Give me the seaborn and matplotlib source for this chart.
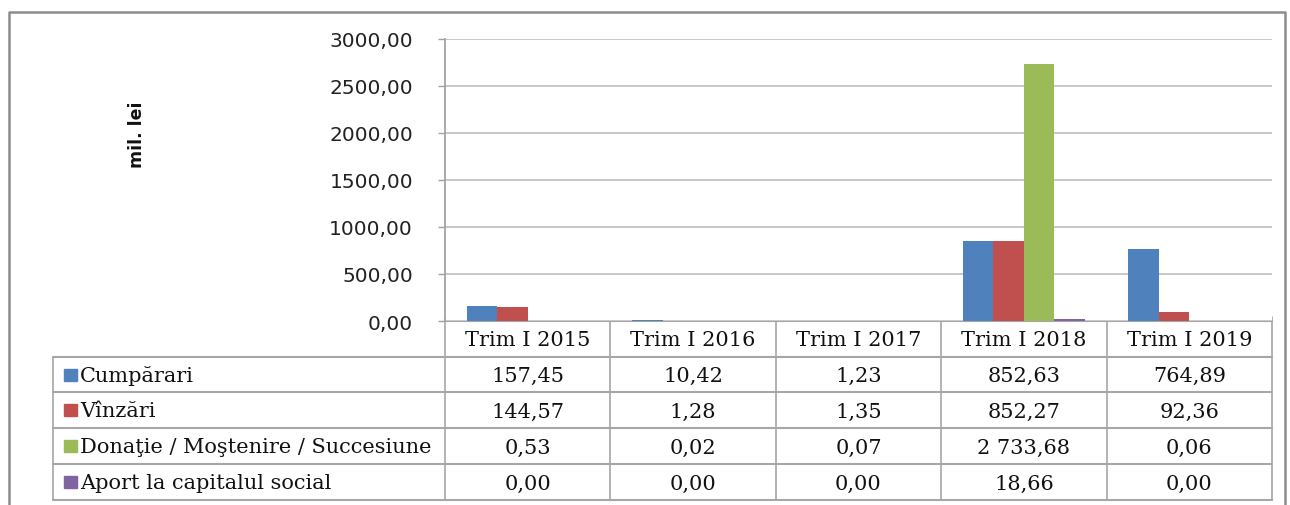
import numpy as np
import pandas as pd
import matplotlib
matplotlib.use("Agg")
import matplotlib.pyplot as plt
import seaborn as sns

# Date (mil. lei)
categorii = ["Trim I 2015", "Trim I 2016", "Trim I 2017", "Trim I 2018", "Trim I 2019"]
serii = ["Cumpărari", "Vînzări", "Donaţie / Moştenire / Succesiune", "Aport la capitalul social"]
cumparari = [157.45, 10.42, 1.23, 852.63, 764.89]
vinzari = [144.57, 1.28, 1.35, 852.27, 92.36]
donatie = [0.53, 0.02, 0.07, 2733.68, 0.06]
aport = [0.00, 0.00, 0.00, 18.66, 0.00]
culori = ["#4F81BD", "#C0504D", "#9BBB59", "#8064A2"]
y_ticks = [0, 500, 1000, 1500, 2000, 2500, 3000]

valori = [cumparari, vinzari, donatie, aport]
df = pd.DataFrame({
    "categorie": categorii * len(serii),
    "serie": [s for s in serii for _ in categorii],
    "valoare": [v for lst in valori for v in lst],
})


def fmt(v):
    # valori tabel: "2 733,68"
    return f"{v:,.2f}".replace(",", " ").replace(".", ",")


sns.set_theme(style="white")
plt.rcParams["font.family"] = ["DejaVu Sans"]

W, H = 1290, 506
fig = plt.figure(figsize=(W / 100, H / 100), dpi=100)

# zona graficului (pixeli)
L, R, T, B = 445, 1272, 40, 322
ax = fig.add_axes([L / W, 1 - B / H, (R - L) / W, (B - T) / H])

sns.barplot(data=df, x="categorie", y="valoare", hue="serie", hue_order=serii,
            order=categorii, palette=culori, width=0.74, legend=False,
            saturation=1, ax=ax, errorbar=None, linewidth=0)

ax.set_xlim(-0.5, len(categorii) - 0.5)
ax.set_ylim(0, 3000)
ax.set_yticks(y_ticks)
ax.set_yticklabels([f"{v:.2f}".replace(".", ",") for v in y_ticks],
                   fontsize=14.5, color="#222222")
ax.set_xticks([])
ax.set_xlabel("")
ax.set_ylabel("")
ax.yaxis.grid(True, color="#BFBFBF", linewidth=1.2)
ax.set_axisbelow(True)
for s in ["top", "right", "bottom"]:
    ax.spines[s].set_visible(False)
ax.spines["left"].set_color("#A0A0A0")
ax.tick_params(axis="y", which="major", left=True, length=5, width=1,
               color="#A0A0A0", pad=18)

# strat pentru tabel, in coordonate pixel
tab = fig.add_axes([0, 0, 1, 1], zorder=-1)
tab.set_xlim(0, W)
tab.set_ylim(H, 0)
tab.axis("off")

# chenar exterior
tab.plot([9, 9, 1285, 1285], [H + 5, 13, 13, H + 5], color="#8C8C8C", lw=1.8)

fig.text(137 / W, 1 - 135 / H, "mil. lei", rotation=90, ha="center", va="center",
         fontsize=12.5, fontweight="bold", color="#111111")

colw = (R - L) / len(categorii)
col_x = [L + i * colw for i in range(len(categorii) + 1)]
rows_y = [322, 358, 393, 429, 465, 501]
lab_left = 53
gc = "#A6A6A6"
serif = ["DejaVu Serif"]
fs = 15

# linii orizontale
tab.plot([L, R], [rows_y[0], rows_y[0]], color=gc, lw=1.5)
for y in rows_y[1:]:
    tab.plot([lab_left, R], [y, y], color=gc, lw=1.5)
# linii verticale
tab.plot([lab_left, lab_left], [rows_y[1], rows_y[-1]], color=gc, lw=1.2)
for x in col_x:
    tab.plot([x, x], [rows_y[0] - 4, rows_y[-1]], color=gc, lw=1.2)

# antet
for i, c in enumerate(categorii):
    tab.text((col_x[i] + col_x[i + 1]) / 2, (rows_y[0] + rows_y[1]) / 2 + 1, c,
             ha="center", va="center", fontsize=fs, family=serif, color="#111111")

# randuri
for r, (s, lst, col) in enumerate(zip(serii, valori, culori)):
    yc = (rows_y[r + 1] + rows_y[r + 2]) / 2
    tab.add_patch(plt.Rectangle((64, yc - 6), 13, 12, color=col))
    tab.text(80, yc + 1, s, ha="left", va="center", fontsize=fs, family=serif,
             color="#111111")
    for i, v in enumerate(lst):
        tab.text((col_x[i] + col_x[i + 1]) / 2, yc + 1, fmt(v), ha="center",
                 va="center", fontsize=fs, family=serif, color="#111111")

fig.savefig("out.png", dpi=100, facecolor="white")
